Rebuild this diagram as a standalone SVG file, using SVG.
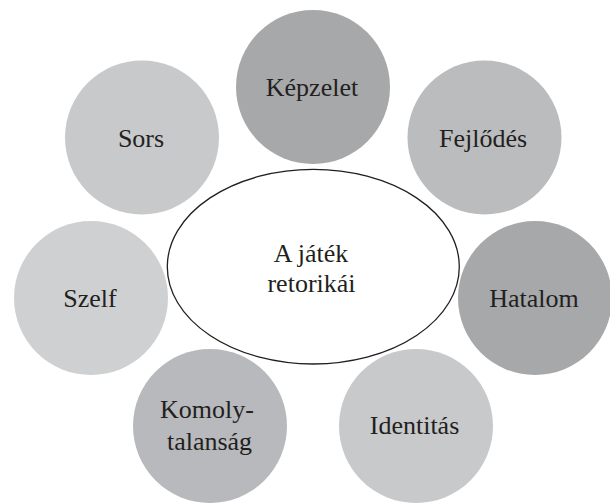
<svg xmlns="http://www.w3.org/2000/svg" width="610" height="503" viewBox="0 0 610 503">
<style>
text{font-family:'Liberation Serif','DejaVu Serif',serif;font-size:26px;fill:#231f20;text-anchor:middle}
.dark{fill:#a7a8aa}
.mid{fill:#bbbcbe}
.midb{fill:#b8b9bc}
.light{fill:#c8c9cb}
.lighter{fill:#cfd0d2}
</style>
<rect width="610" height="503" fill="#ffffff"/>
<g id="connectors"></g>
<g font-family="Liberation Serif, DejaVu Serif, serif">
<g id="kepzelet"><circle class="dark" cx="313" cy="87" r="77"/><text x="312" y="96">Képzelet</text></g>
<g id="fejlodes"><circle class="mid" cx="484.5" cy="137.5" r="77"/><text x="483" y="146.5">Fejlődés</text></g>
<g id="hatalom"><circle class="dark" cx="535" cy="298" r="77"/><text x="534" y="306.5">Hatalom</text></g>
<g id="identitas"><circle class="light" cx="416" cy="426" r="77"/><text x="414.5" y="434">Identitás</text></g>
<g id="komolytalansag"><circle class="midb" cx="210" cy="426" r="77"/><text x="207" y="418">Komoly-</text><text x="209.5" y="450">talanság</text></g>
<g id="szelf"><circle class="lighter" cx="91" cy="298" r="77"/><text x="90" y="306.5">Szelf</text></g>
<g id="sors"><circle class="light" cx="142" cy="137.5" r="77"/><text x="141" y="146.5">Sors</text></g>
<g id="center"><ellipse cx="313.3" cy="266.7" rx="146" ry="97.3" fill="#ffffff" stroke="#231f20" stroke-width="1.3"/><text x="311" y="261.7">A játék</text><text x="311.5" y="291.7">retorikái</text></g>
</g>
</svg>
